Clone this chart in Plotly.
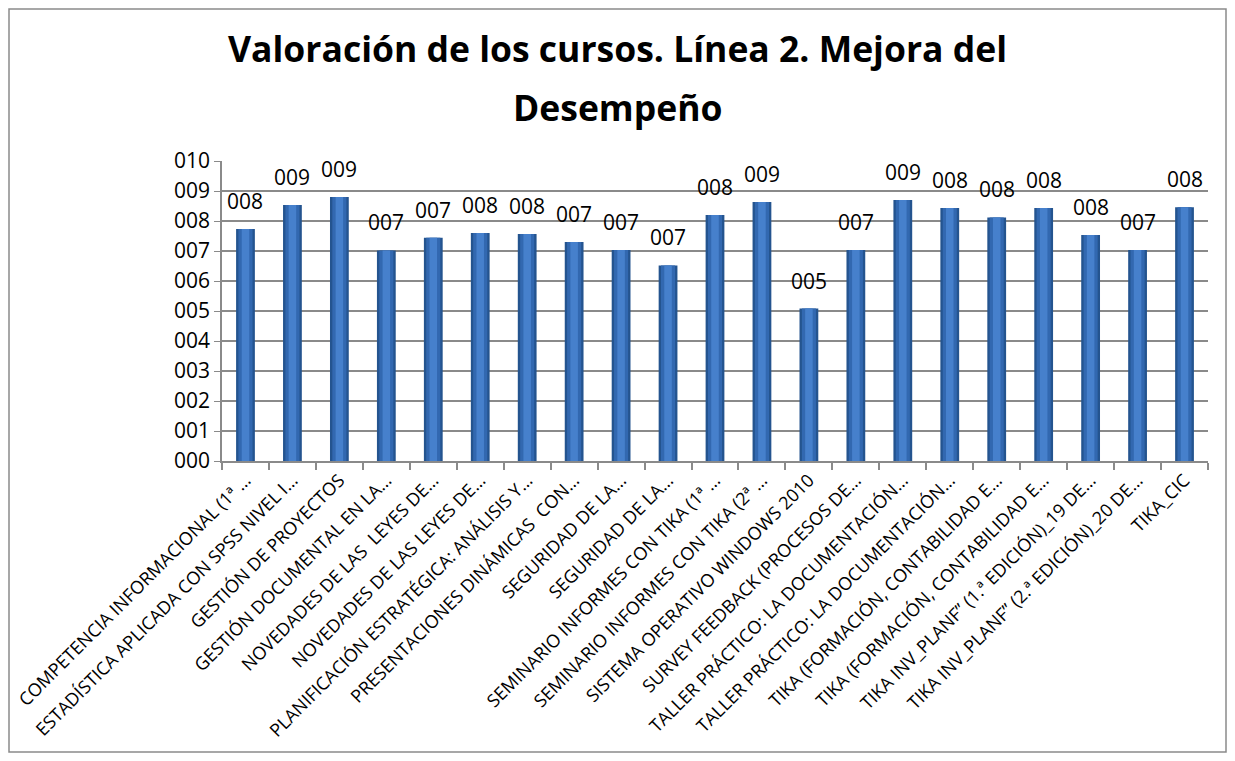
import plotly.graph_objects as go

cursos = [
    "COMPETENCIA INFORMACIONAL (1ª …",
    "ESTADÍSTICA APLICADA CON SPSS NIVEL I…",
    "GESTIÓN DE PROYECTOS",
    "GESTIÓN DOCUMENTAL EN LA…",
    "NOVEDADES DE LAS  LEYES DE…",
    "NOVEDADES DE LAS LEYES DE…",
    "PLANIFICACIÓN ESTRATÉGICA: ANÁLISIS Y…",
    "PRESENTACIONES DINÁMICAS  CON…",
    "SEGURIDAD DE LA…",
    "SEGURIDAD DE LA…",
    "SEMINARIO INFORMES CON TIKA (1ª …",
    "SEMINARIO INFORMES CON TIKA (2ª …",
    "SISTEMA OPERATIVO WINDOWS 2010",
    "SURVEY FEEDBACK (PROCESOS DE…",
    "TALLER PRÁCTICO: LA DOCUMENTACIÓN…",
    "TALLER PRÁCTICO: LA DOCUMENTACIÓN…",
    "TIKA (FORMACIÓN, CONTABILIDAD E…",
    "TIKA (FORMACIÓN, CONTABILIDAD E…",
    "TIKA INV_PLANF” (1.ª EDICIÓN)_19 DE…",
    "TIKA INV_PLANF” (2.ª EDICIÓN)_20 DE…",
    "TIKA_CIC",
]
valoracion = [7.73, 8.53, 8.80, 7.02, 7.44, 7.60, 7.57, 7.30, 7.03, 6.52,
              8.20, 8.63, 5.08, 7.03, 8.70, 8.43, 8.12, 8.43, 7.53, 7.03, 8.46]
y_ticks = list(range(0, 11))

# page body adds an 8px margin, so the figure is sized to fit inside it
W, H = 1219, 745
ML, MR, MT, MB = 214, 19, 153, 292
FONT = "Open Sans"

pos = list(range(len(cursos)))
pw = W - ML - MR
ph = H - MT - MB

fig = go.Figure()
# stacked widths to fake the cylinder shading of the original bars
for width, color in [(0.40, "#24548f"), (0.30, "#3268b0"), (0.16, "#4680cc")]:
    fig.add_trace(go.Bar(
        x=pos, y=valoracion, width=width,
        marker=dict(color=color, line_width=0),
        hoverinfo="skip" if width < 0.4 else None,
    ))

for xi, v in zip(pos, valoracion):
    fig.add_annotation(
        x=xi, y=v, text=f"{round(v):03d}", showarrow=False,
        yanchor="bottom", yshift=12,
        font=dict(family=FONT, size=21, color="black"),
    )

# second title line, set a bit lower than plotly's own line spacing
fig.add_annotation(
    xref="paper", yref="paper", x=(W / 2 - ML) / pw, y=1 + (MT - 99) / ph,
    text="<b>Desempeño</b>", showarrow=False, xanchor="center", yanchor="middle",
    font=dict(family=FONT, size=35.5, color="black"),
)

fig.add_shape(
    type="rect", xref="paper", yref="paper",
    x0=-(ML - 1) / pw, x1=1 + (MR - 1) / pw,
    y0=-(MB - 1) / ph, y1=1 + (MT - 1) / ph,
    line=dict(color="#8a8a8a", width=1.5), layer="below",
)

fig.update_layout(
    width=W, height=H,
    margin=dict(l=ML, r=MR, t=MT, b=MB, autoexpand=False),
    paper_bgcolor="white", plot_bgcolor="white",
    barmode="overlay", showlegend=False,
    title=dict(
        text="<b>Valoración de los cursos. Línea 2. Mejora del</b>",
        x=0.5, xanchor="center", y=1 - 42 / H, yanchor="middle",
        font=dict(family=FONT, size=35.5, color="black"),
    ),
    font=dict(family=FONT, color="black"),
)
fig.update_xaxes(
    range=[-0.5, len(cursos) - 0.5], automargin=False,
    tickmode="array", tickvals=pos, ticktext=cursos,
    tickangle=-45, ticks="", tickfont=dict(size=18),
    showline=True, linecolor="#8a8a8a", linewidth=1.5,
    showgrid=False, zeroline=False,
    minor=dict(ticks="outside", ticklen=7, tick0=0.5, dtick=1,
               tickcolor="#8a8a8a", tickwidth=1.5, showgrid=False),
)
fig.update_yaxes(
    range=[0, 10], automargin=False, tickmode="array", tickvals=y_ticks,
    tickformat="03d", ticks="outside", ticklen=6, tickcolor="#8a8a8a",
    tickfont=dict(size=21),
    showline=True, linecolor="#8a8a8a", linewidth=1.5,
    showgrid=True, gridcolor="#8a8a8a", gridwidth=1.5, zeroline=False,
)

fig.write_html("out.html")
